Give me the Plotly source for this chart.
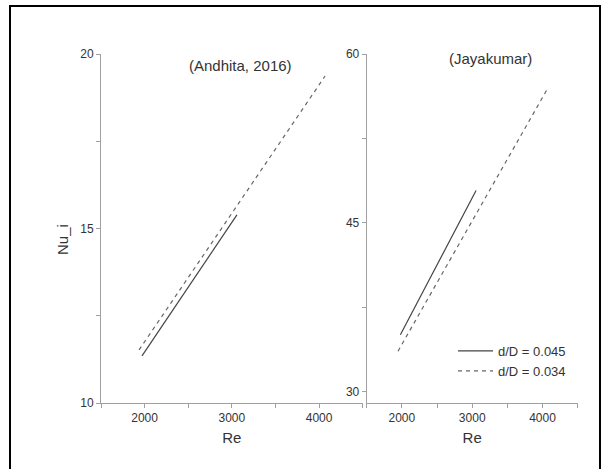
import plotly.graph_objects as go

W, H = 602, 469

# ---- data ----
re_andhita_045 = [1970, 3058]
nu_andhita_045 = [11.35, 15.39]
re_andhita_034 = [1936, 4069]
nu_andhita_034 = [11.52, 19.37]

re_jaya_045 = [1979, 3055]
nu_jaya_045 = [35.07, 47.87]
re_jaya_034 = [1945, 4060]
nu_jaya_034 = [33.6, 56.8]

series_names = ["d/D = 0.045", "d/D = 0.034"]
panel_titles = ["(Andhita, 2016)", "(Jayakumar)"]

def px(x):
    return x / W

def py(y):
    return 1 - y / H

FONT = "Arial, 'Liberation Sans', sans-serif"
AX_COL = "#a0a0a0"
TXT_COL = "#333333"

fig = go.Figure()

solid = dict(color="#444444", width=1.2)
dashed = dict(color="#666666", width=1.2, dash="4px,4px")

fig.add_trace(go.Scatter(x=re_andhita_045, y=nu_andhita_045, mode="lines", line=solid,
                         name=series_names[0], legendgroup="a", xaxis="x", yaxis="y"))
fig.add_trace(go.Scatter(x=re_andhita_034, y=nu_andhita_034, mode="lines", line=dashed,
                         name=series_names[1], legendgroup="b", xaxis="x", yaxis="y"))
fig.add_trace(go.Scatter(x=re_jaya_045, y=nu_jaya_045, mode="lines", line=solid,
                         name=series_names[0], legendgroup="a", showlegend=False, xaxis="x2", yaxis="y2"))
fig.add_trace(go.Scatter(x=re_jaya_034, y=nu_jaya_034, mode="lines", line=dashed,
                         name=series_names[1], legendgroup="b", showlegend=False, xaxis="x2", yaxis="y2"))

ydom = [py(403), py(54)]

common_x = dict(showline=True, linecolor=AX_COL, linewidth=1, showgrid=False, zeroline=False,
                ticks="outside", ticklen=4, tickcolor=AX_COL, tickwidth=1,
                tick0=2000, dtick=1000, range=[1500, 4500],
                tickfont=dict(family=FONT, size=12, color=TXT_COL),
                minor=dict(dtick=500, tick0=1500, ticks="outside", ticklen=4, tickcolor=AX_COL, showgrid=False),
                title=dict(text="Re", font=dict(family=FONT, size=15, color=TXT_COL), standoff=8),
                automargin=False)
common_y = dict(showline=True, linecolor=AX_COL, linewidth=1, showgrid=False, zeroline=False,
                ticks="outside", ticklen=4, tickcolor=AX_COL, tickwidth=1,
                tickfont=dict(family=FONT, size=12, color=TXT_COL), automargin=False,
                domain=ydom)

fig.update_layout(
    width=W, height=H,
    margin=dict(l=0, r=0, t=0, b=0),
    paper_bgcolor="white", plot_bgcolor="white",
    xaxis=dict(common_x, domain=[px(101), px(362.7)], anchor="y"),
    yaxis=dict(common_y, range=[10, 20], tick0=10, dtick=5, anchor="x",
               minor=dict(dtick=2.5, tick0=10, ticks="outside", ticklen=4, tickcolor=AX_COL, showgrid=False)),
    xaxis2=dict(common_x, domain=[px(366.7), px(577.7)], anchor="y2"),
    yaxis2=dict(common_y, range=[29, 60], tick0=30, dtick=15, anchor="x2",
                minor=dict(dtick=7.5, tick0=30, ticks="outside", ticklen=4, tickcolor=AX_COL, showgrid=False)),
    showlegend=True,
    legend=dict(x=px(453), y=py(336), xanchor="left", yanchor="top",
                bgcolor="rgba(0,0,0,0)", font=dict(family=FONT, size=13, color=TXT_COL),
                itemwidth=35, tracegroupgap=0),
    annotations=[
        dict(text=panel_titles[0], x=px(240), y=py(65), xref="paper", yref="paper",
             xanchor="center", yanchor="middle",
             showarrow=False, font=dict(family=FONT, size=15, color=TXT_COL)),
        dict(text=panel_titles[1], x=px(490), y=py(58), xref="paper", yref="paper",
             xanchor="center", yanchor="middle",
             showarrow=False, font=dict(family=FONT, size=15, color=TXT_COL)),
        dict(text="Nu_i", x=px(62), y=py(240), xref="paper", yref="paper", textangle=-90,
             xanchor="center", yanchor="middle",
             showarrow=False, font=dict(family=FONT, size=15, color=TXT_COL)),
    ],
    shapes=[
        dict(type="rect", xref="paper", yref="paper", x0=px(10), x1=px(600), y0=-0.05, y1=py(6),
             line=dict(color="black", width=2), fillcolor="rgba(0,0,0,0)", layer="above"),
    ],
)

fig.write_html("out.html",
               config={"displayModeBar": False},
               post_script="document.body.style.margin='0';document.body.style.overflow='hidden';")
